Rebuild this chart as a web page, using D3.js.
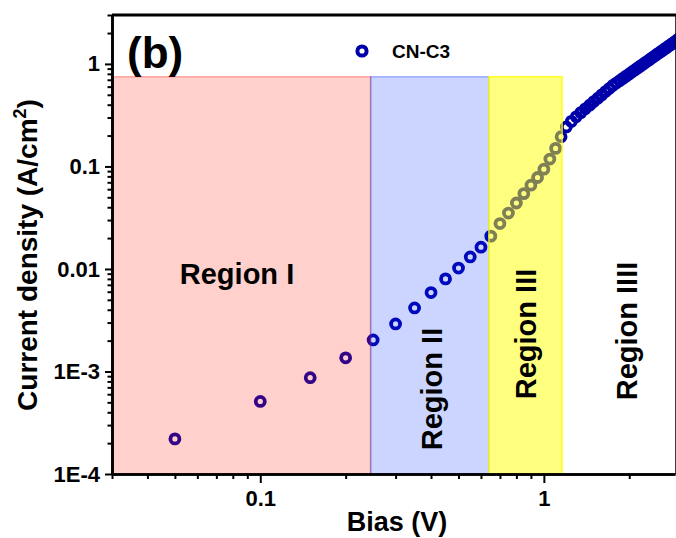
<!DOCTYPE html>
<html>
<head>
<meta charset="utf-8">
<script src="https://cdn.jsdelivr.net/npm/d3@7"></script>
<style>
  html, body { margin: 0; padding: 0; background: #fff; }
  svg text { font-family: "Liberation Sans", Arial, sans-serif; font-weight: bold; fill: #000; }
</style>
</head>
<body>
<svg id="chart" width="676" height="538"></svg>
<script>
// J-V data for CN-C3 (bias in V, current density in A/cm^2)
const bias = [
  0.05, 0.10, 0.15, 0.20, 0.25, 0.30, 0.35, 0.40, 0.45, 0.50,
  0.55, 0.60, 0.65, 0.70, 0.75, 0.80, 0.85, 0.90, 0.95, 1.00,
  1.05, 1.10, 1.15, 1.20, 1.25, 1.30, 1.35, 1.40, 1.45, 1.50,
  1.55, 1.60, 1.65, 1.70, 1.75, 1.80, 1.85, 1.90, 1.95, 2.00,
  2.05, 2.10, 2.15, 2.20, 2.25, 2.30, 2.35, 2.40, 2.45, 2.50,
  2.55, 2.60, 2.65, 2.70, 2.75, 2.80, 2.85, 2.90, 2.95, 3.00
];
const currentDensity = [
  2.2e-4, 5.1e-4, 8.7e-4, 1.36e-3, 2.03e-3, 2.91e-3, 4.17e-3, 5.89e-3, 8.0e-3, 1.02e-2,
  1.31e-2, 1.63e-2, 2.09e-2, 2.77e-2, 3.51e-2, 4.40e-2, 5.43e-2, 6.56e-2, 7.80e-2, 9.4e-2,
  0.118, 0.150, 0.195, 0.243, 0.275, 0.305, 0.335, 0.365, 0.396, 0.429,
  0.463, 0.499, 0.537, 0.575, 0.616, 0.651, 0.686, 0.723, 0.760, 0.799,
  0.839, 0.879, 0.920, 0.962, 1.005, 1.049, 1.094, 1.140, 1.187, 1.235,
  1.283, 1.333, 1.383, 1.434, 1.487, 1.540, 1.594, 1.649, 1.705, 1.762
];
const seriesName = "CN-C3";

// Axis ticks
const xMajorTicks = [0.1, 1];
const xMajorLabels = ["0.1", "1"];
const xMinorTicks = [0.03, 0.04, 0.05, 0.06, 0.07, 0.08, 0.09,
                     0.2, 0.3, 0.4, 0.5, 0.6, 0.7, 0.8, 0.9, 2];
const yMajorTicks = [1e-4, 1e-3, 1e-2, 1e-1, 1];
const yMajorLabels = ["1E-4", "1E-3", "0.01", "0.1", "1"];
const yMinorTicks = [
  2e-4, 3e-4, 4e-4, 5e-4, 6e-4, 7e-4, 8e-4, 9e-4,
  2e-3, 3e-3, 4e-3, 5e-3, 6e-3, 7e-3, 8e-3, 9e-3,
  0.02, 0.03, 0.04, 0.05, 0.06, 0.07, 0.08, 0.09,
  0.2, 0.3, 0.4, 0.5, 0.6, 0.7, 0.8, 0.9,
  2, 3
];

// Conduction regions (bias ranges) and the current-density top of the shaded bands
const regionNames = ["Region I", "Region II", "Region III", "Region IIII"];
const regionFrom  = [0.03, 0.245, 0.64, 1.16];
const regionTo    = [0.245, 0.64, 1.16, null];
const regionTop   = 0.75;
const regionFloor = 1e-4;

// ---- styling / layout ----
const W = 676, H = 538;
const margin = { left: 112, top: 15, right: 1, bottom: 64 };
const innerW = W - margin.left - margin.right;
const innerH = H - margin.top - margin.bottom;

const markerColor = "#0000aa";
const regionFill = ["rgb(255,20,0)", "rgb(0,45,255)", "rgb(255,255,0)", null];
const regionOpacity = [0.2, 0.2, 0.5, 0];
const regionLabelPos = [
  { x: 237, y: 284, rotate: false },
  { x: 442, y: 389, rotate: true },
  { x: 536, y: 334, rotate: true },
  { x: 637, y: 331, rotate: true }
];

const svg = d3.select("#chart");

const x = d3.scaleLog().domain([0.03, 2.9]).range([margin.left, margin.left + innerW]);
const y = d3.scaleLog().domain([1e-4, 3]).range([margin.top + innerH, margin.top]);

const points = bias.map((v, i) => ({ v, j: currentDensity[i] }));

// Data markers (open circles)
svg.append("g")
  .selectAll("circle")
  .data(points)
  .join("circle")
  .attr("cx", d => x(d.v))
  .attr("cy", d => y(d.j))
  .attr("r", 4.5)
  .attr("fill", "none")
  .attr("stroke", markerColor)
  .attr("stroke-width", 3.8);

// Translucent region bands laid over the data
const bands = regionNames.map((name, i) => ({
  name, from: regionFrom[i], to: regionTo[i], fill: regionFill[i], op: regionOpacity[i]
})).filter(d => d.fill);

svg.append("g")
  .selectAll("rect")
  .data(bands)
  .join("rect")
  .attr("x", d => x(d.from))
  .attr("y", y(regionTop))
  .attr("width", d => x(d.to) - x(d.from))
  .attr("height", y(regionFloor) - y(regionTop))
  .attr("fill", d => d.fill)
  .attr("fill-opacity", d => d.op)
  .attr("stroke", d => d.fill)
  .attr("stroke-opacity", d => Math.min(1, d.op * 1.6))
  .attr("stroke-width", 1.5);

// Region labels
regionNames.forEach((name, i) => {
  const p = regionLabelPos[i];
  svg.append("text")
    .attr("x", p.x).attr("y", p.y)
    .attr("text-anchor", "middle")
    .attr("font-size", 29)
    .attr("transform", p.rotate ? `rotate(-90,${p.x},${p.y})` : null)
    .text(name);
});

// Axes
const xAxisG = svg.append("g").attr("transform", `translate(0,${margin.top + innerH})`);
xAxisG.call(d3.axisBottom(x).tickValues(xMinorTicks).tickSize(5).tickSizeOuter(0).tickFormat(""));
xAxisG.call(g => g.append("g").call(
  d3.axisBottom(x).tickValues(xMajorTicks).tickSize(9).tickSizeOuter(0).tickPadding(7)
    .tickFormat((d, i) => xMajorLabels[i])));

const yAxisG = svg.append("g").attr("transform", `translate(${margin.left},0)`);
yAxisG.call(d3.axisLeft(y).tickValues(yMinorTicks).tickSize(4.5).tickSizeOuter(0).tickFormat(""));
yAxisG.call(g => g.append("g").call(
  d3.axisLeft(y).tickValues(yMajorTicks).tickSize(7).tickSizeOuter(0).tickPadding(5)
    .tickFormat((d, i) => yMajorLabels[i])));

svg.selectAll(".domain").attr("stroke", "#000").attr("stroke-width", 2.6);
svg.selectAll(".tick line").attr("stroke", "#000").attr("stroke-width", 2);
svg.selectAll(".tick text")
  .attr("font-size", 22)
  .attr("font-family", "'Liberation Sans', Arial, sans-serif")
  .attr("font-weight", "bold")
  .attr("fill", "#000");

// Top and right frame lines
svg.append("line")
  .attr("x1", margin.left).attr("x2", W)
  .attr("y1", margin.top).attr("y2", margin.top)
  .attr("stroke", "#000").attr("stroke-width", 3);
svg.append("line")
  .attr("x1", W + 0.5).attr("x2", W + 0.5)
  .attr("y1", margin.top).attr("y2", margin.top + innerH)
  .attr("stroke", "#000").attr("stroke-width", 2.5);

// Axis titles
svg.append("text")
  .attr("x", 397).attr("y", 531)
  .attr("text-anchor", "middle")
  .attr("font-size", 27)
  .text("Bias (V)");

const yTitle = svg.append("text")
  .attr("x", 37).attr("y", 255)
  .attr("text-anchor", "middle")
  .attr("font-size", 28)
  .attr("transform", "rotate(-90,37,255)");
yTitle.append("tspan").text("Current density (A/cm");
yTitle.append("tspan").attr("font-size", 18).attr("dy", -11).text("2");
yTitle.append("tspan").attr("dy", 11).text(")");

// Panel tag
svg.append("text")
  .attr("x", 127).attr("y", 68)
  .attr("font-size", 44)
  .text("(b)");

// Legend
svg.append("circle")
  .attr("cx", 362).attr("cy", 51)
  .attr("r", 4.6)
  .attr("fill", "none")
  .attr("stroke", markerColor)
  .attr("stroke-width", 4);
svg.append("text")
  .attr("x", 392).attr("y", 58)
  .attr("font-size", 19)
  .text(seriesName);
</script>
</body>
</html>
